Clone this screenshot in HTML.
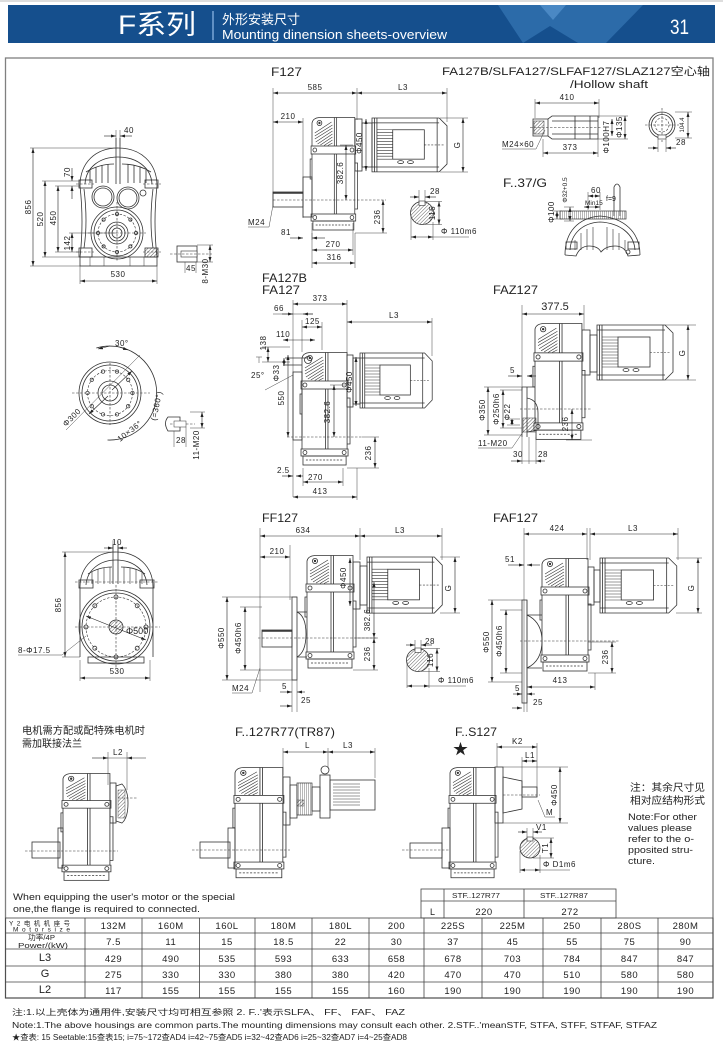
<!DOCTYPE html>
<html><head><meta charset="utf-8">
<style>
html,body{margin:0;padding:0;background:#fff}
body{width:723px;height:1042px;overflow:hidden}
svg{display:block}
text{font-family:"Liberation Sans","Noto Sans CJK SC",sans-serif;fill:#222;font-size:8px}
.l{fill:none;stroke:#333;stroke-width:.8}
.e{fill:none;stroke:#444;stroke-width:.5}
.dm{fill:none;stroke:#222;stroke-width:.6;marker-start:url(#a);marker-end:url(#a)}
.de{fill:none;stroke:#222;stroke-width:.6;marker-end:url(#a)}
.dsh{fill:none;stroke:#333;stroke-width:.6;stroke-dasharray:2.5 1.5}
.ttl{font-size:12px}
.n{font-size:8px;letter-spacing:.5px}
.tb{font-size:9.5px;letter-spacing:.5px}
</style></head><body>
<svg width="723" height="1042" viewBox="0 0 723 1042" xmlns="http://www.w3.org/2000/svg">
<defs>
<marker id="a" viewBox="0 0 10 6" refX="10" refY="3" markerWidth="5" markerHeight="3" orient="auto-start-reverse" markerUnits="userSpaceOnUse"><path d="M0,0L10,3L0,6z" fill="#222"/></marker>
<pattern id="h" width="2.5" height="2.5" patternUnits="userSpaceOnUse" patternTransform="rotate(45)"><line x1="0" y1="0" x2="0" y2="2.5" stroke="#333" stroke-width=".8"/></pattern>
<pattern id="v" width="2" height="4" patternUnits="userSpaceOnUse"><line x1="0" y1="0" x2="0" y2="4" stroke="#333" stroke-width=".7"/></pattern>
<g id="gb" fill="none" stroke="#333" stroke-width=".8">
 <path d="M0,29 L0,6 Q1,1 8,.5 L46,.5 L46,29"/>
 <path d="M3,16 L21,5 M3,19 L22,8 M3,22 L22,11 M4,25 L22,14 M6,27 L22,17 M9,28 L22,20 M13,28.5 L22,23 M17,28.5 L22,26" stroke-width=".6"/>
 <circle cx="8" cy="6" r="2.6"/><circle cx="8" cy="6" r=".8" fill="#333"/>
 <rect x="-1" y="29" width="48" height="8"/>
 <circle cx="3" cy="33" r="2"/><circle cx="43" cy="33" r="2"/>
 <path d="M24,.5 V29 M26.5,.5 V29 M24,37 V97 M26.5,37 V97"/>
 <path d="M0,37 V97 M46,37 V97"/>
 <path d="M0,42 H-2 V62 H0 M46,46 H49 V92 H46"/>
 <rect x="-1" y="97" width="48" height="7"/>
 <circle cx="3" cy="100.5" r="2"/><circle cx="43" cy="100.5" r="2"/>
 <rect x="1" y="104" width="44" height="9"/>
 <path d="M4,108 H42" stroke-dasharray="2 1.5"/>
</g>
<g id="mt" fill="none" stroke="#333" stroke-width=".8">
 <path d="M0,0 L68,0 L76,8 L76,47 L68,55 L0,55 Z"/>
 <path d="M0,5 H68 M0,50 H68 M66,0 V55 M2.5,0 V55 M5,0 V55"/>
 <rect x="21" y="12" width="32" height="30"/>
 <path d="M5,12 H21 M5,15 H21 M5,18 H21 M5,21 H21 M5,24 H21 M5,27 H21 M5,30 H21 M5,33 H21 M5,36 H21 M5,39 H21 M5,42 H21" stroke-width=".6"/>
 <path d="M53,27.5 H74" stroke-dasharray="2 1.5" stroke-width=".6"/>
 <ellipse cx="29" cy="45" rx="3" ry="1.5"/><ellipse cx="39" cy="45" rx="3" ry="1.5"/>
</g>
</defs>

<!-- HEADER -->
<line x1="0" y1="1" x2="723" y2="1" stroke="#bbb" stroke-width="1"/>
<rect x="8" y="5" width="707" height="38" fill="#154f8d"/>
<polygon points="498,5 643,5 606,43 578,43 550,26 523,43" fill="#2c6ba9"/>
<polygon points="540,5 566,5 553,20" fill="#4a88c4"/>
<text x="118" y="34" fill="#fff" style="fill:#fff;font-size:27px" textLength="78" lengthAdjust="spacingAndGlyphs">F系列</text>
<line x1="213" y1="11" x2="213" y2="40" stroke="#7aa6d6" stroke-width="1.5"/>
<text x="222" y="24" style="fill:#fff;font-size:13px" textLength="78" lengthAdjust="spacingAndGlyphs">外形安装尺寸</text>
<text x="222" y="39" style="fill:#fff;font-size:13px" textLength="225" lengthAdjust="spacingAndGlyphs">Mounting dinension sheets-overview</text>
<text x="670" y="34" style="fill:#fff;font-size:21px" textLength="19" lengthAdjust="spacingAndGlyphs">31</text>

<!-- FRAME -->
<rect x="5.5" y="58" width="707.5" height="940" fill="none" stroke="#808080" stroke-width="1.3"/>

<!-- A: F127 front view -->
<g class="l">
<path d="M80,186 C80,162 96,148 118,148 C140,148 157,162 157,186"/>
<path d="M85,184 C86,167 100,157 118,157 C136,157 151,167 152,184"/>
<path d="M86,172 C96,166 106,164 114,164 M122,164 C130,164 141,166 151,172"/>
<path d="M90,170 V183 M96,167 V183 M102,165 V183 M108,164 V183 M128,164 V183 M134,165 V183 M140,167 V183 M146,170 V183"/>
<path d="M116,138 V184 M120,138 V184"/>
<path d="M80,186 Q84,222 80,257 M157,186 Q153,222 157,257"/>
<path d="M84,189 Q88,222 84,248 M153,189 Q149,222 153,248"/>
<rect x="79" y="180" width="13" height="8"/><rect x="145" y="180" width="13" height="8"/>
<rect x="79" y="248" width="13" height="9"/><rect x="145" y="248" width="13" height="9" fill="url(#h)"/>
<circle cx="103" cy="197" r="11"/><circle cx="103" cy="197" r="9"/>
<circle cx="128" cy="198" r="11"/><circle cx="128" cy="198" r="9"/>
<circle cx="143" cy="193" r="3"/>
<circle cx="117" cy="233" r="26"/><circle cx="117" cy="233" r="23"/>
<circle cx="117" cy="233" r="11"/><circle cx="117" cy="233" r="8"/><circle cx="117" cy="233" r="5"/>
<circle cx="136" cy="233" r="1.6"/><circle cx="130.4" cy="246.4" r="1.6"/><circle cx="117" cy="252" r="1.6"/><circle cx="103.6" cy="246.4" r="1.6"/><circle cx="98" cy="233" r="1.6"/><circle cx="103.6" cy="219.6" r="1.6"/><circle cx="117" cy="214" r="1.6"/><circle cx="130.4" cy="219.6" r="1.6"/>
<rect x="80" y="257" width="77" height="9"/>
<path d="M90,257 V266 M104,257 V266 M130,257 V266 M144,257 V266" stroke-width=".5"/>
</g>
<circle cx="117" cy="233" r="19" class="dsh"/>
<path class="dsh" d="M88,233 H146 M117,202 V262 M76,184 H94 M143,184 H161 M76,252 H94 M143,252 H161"/>
<!-- A dims -->
<path class="e" d="M116,130 V146 M120,130 V146 M30,148 H118 M30,266 H80 M42,181 H80 M42,257 H80 M55,186 H80 M55,252 H80 M69,233 H117 M80,266 V284 M157,266 V284"/>
<line class="de" x1="104" y1="136" x2="116" y2="136"/><line class="de" x1="132" y1="136" x2="120" y2="136"/>
<text class="n" x="124" y="133">40</text>
<line class="dm" x1="33" y1="148" x2="33" y2="266"/>
<text class="n" transform="translate(31,207) rotate(-90)" text-anchor="middle">856</text>
<line class="dm" x1="45" y1="181" x2="45" y2="257"/>
<text class="n" transform="translate(43,219) rotate(-90)" text-anchor="middle">520</text>
<line class="dm" x1="58" y1="186" x2="58" y2="252"/>
<text class="n" transform="translate(56,218) rotate(-90)" text-anchor="middle">450</text>
<line class="de" x1="72" y1="168" x2="72" y2="181"/><line class="de" x1="72" y1="199" x2="72" y2="186"/>
<text class="n" transform="translate(70,172) rotate(-90)" text-anchor="middle">70</text>
<line class="dm" x1="72" y1="233" x2="72" y2="252"/>
<text class="n" transform="translate(70,243) rotate(-90)" text-anchor="middle">142</text>
<line class="dm" x1="80" y1="281" x2="157" y2="281"/>
<text class="n" x="118" y="277" text-anchor="middle">530</text>
<rect class="l" x="177" y="246" width="20" height="16" fill="url(#h)"/>
<rect x="181" y="251" width="16" height="6" fill="#fff" stroke="#333" stroke-width=".6"/>
<path class="dsh" d="M170,254 H212"/>
<path class="e" d="M185,262 V273 M196,262 V273 M197,245 H213 M197,262 H213"/>
<line class="dm" x1="210" y1="245" x2="210" y2="262"/>
<text class="n" x="186" y="271">45</text>
<text class="n" transform="translate(208,271) rotate(-90)" text-anchor="middle">8-M30</text>

<!-- B: F127 side -->
<text class="ttl" x="271" y="76" textLength="31" lengthAdjust="spacingAndGlyphs">F127</text>
<path class="e" d="M273,88 V207 M357,88 V120 M447,88 V122 M303,118 V218"/>
<line class="dm" x1="273" y1="93" x2="357" y2="93"/>
<line class="dm" x1="357" y1="93" x2="447" y2="93"/>
<text class="n" x="315" y="90" text-anchor="middle">585</text>
<text class="n" x="403" y="90" text-anchor="middle">L3</text>
<line class="dm" x1="273" y1="122" x2="303" y2="122"/>
<text class="n" x="288" y="119" text-anchor="middle">210</text>
<rect class="l" x="273" y="192" width="30" height="15"/>
<line x1="273" y1="193" x2="303" y2="193" stroke="#333" stroke-width="1.5"/>
<rect class="l" x="303" y="177" width="9" height="40"/>
<use href="#gb" transform="translate(312,117) scale(.93,1)"/>
<rect class="l" x="355" y="119" width="7" height="52"/><rect class="l" x="362" y="123" width="10" height="44"/>
<use href="#mt" transform="translate(372,118) scale(.987,.98)"/>
<line class="dsh" x1="273" y1="200" x2="386" y2="200"/>
<path class="e" d="M440,118 H468 M440,172 H468 M340,145 H353 M355,233 H387"/>
<line class="dm" x1="463" y1="118" x2="463" y2="172"/>
<text class="n" transform="translate(460,145) rotate(-90)" text-anchor="middle">G</text>
<line class="dm" x1="366" y1="119" x2="366" y2="171"/>
<text class="n" transform="translate(362,143) rotate(-90)" text-anchor="middle">Φ450</text>
<line class="dm" x1="346" y1="145" x2="346" y2="200"/>
<text class="n" transform="translate(343,173) rotate(-90)" text-anchor="middle">382.6</text>
<line class="dm" x1="383" y1="200" x2="383" y2="233"/>
<text class="n" transform="translate(380,217) rotate(-90)" text-anchor="middle">236</text>
<text class="n" x="248" y="225">M24</text>
<path class="e" d="M248,227 H269 L273,205"/>
<line class="de" x1="290" y1="238" x2="303" y2="238"/><line class="de" x1="325" y1="238" x2="312" y2="238"/>
<text class="n" x="281" y="235">81</text>
<path class="e" d="M312,223 V268 M353,223 V255 M355,233 V268"/>
<line class="dm" x1="312" y1="250" x2="353" y2="250"/>
<text class="n" x="333" y="247" text-anchor="middle">270</text>
<line class="dm" x1="312" y1="263" x2="355" y2="263"/>
<text class="n" x="334" y="260" text-anchor="middle">316</text>
<path class="e" d="M312,233 V240"/>
<circle cx="422" cy="213" r="11.5" fill="url(#h)" stroke="#333" stroke-width=".8"/>
<rect x="419" y="201" width="6" height="4.5" fill="#fff" stroke="#333" stroke-width=".6"/>
<path class="e" d="M419,190 V203 M425,190 V203 M425,201.5 H442 M425,224.5 H442 M411,215 V240 M433,222 V240"/>
<line class="de" x1="410" y1="197" x2="419" y2="197"/><line class="de" x1="436" y1="197" x2="425" y2="197"/>
<text class="n" x="430" y="194">28</text>
<line class="dm" x1="439" y1="201.5" x2="439" y2="224.5"/>
<text class="n" transform="translate(435,213) rotate(-90)" text-anchor="middle">116</text>
<line class="dm" x1="411" y1="237" x2="433" y2="237"/>
<line class="e" x1="433" y1="237" x2="469" y2="237"/>
<text class="n" x="441" y="234">Φ 110m6</text>

<!-- C: hollow shaft -->
<text x="442" y="75" style="font-size:11px" textLength="268" lengthAdjust="spacingAndGlyphs">FA127B/SLFA127/SLFAF127/SLAZ127空心轴</text>
<text x="570" y="88" style="font-size:11px" textLength="78" lengthAdjust="spacingAndGlyphs">/Hollow shaft</text>
<path class="l" d="M533,119 L548,119 L552,116 L598,116 L598,139 L552,139 L548,136 L533,136 Z"/>
<path class="l" d="M552,121 H598 M552,134 H598 M575,116 V139 M590,116 V139 M548,119 V136" stroke-width=".6"/>
<rect x="534" y="121" width="10" height="13" fill="url(#h)" stroke="#333" stroke-width=".5"/>
<path class="dsh" d="M530,127.5 H602"/>
<path class="e" d="M535,99 V118 M599,99 V118 M543,139 V157 M598,139 V157 M598,116 H628 M598,139 H628"/>
<line class="dm" x1="535" y1="103" x2="599" y2="103"/>
<text class="n" x="567" y="100" text-anchor="middle">410</text>
<line class="dm" x1="543" y1="153" x2="598" y2="153"/>
<text class="n" x="570" y="150" text-anchor="middle">373</text>
<text class="n" x="502" y="147">M24×60</text>
<path class="e" d="M502,149 H536 L545,130"/>
<line class="dm" x1="612" y1="119" x2="612" y2="136"/>
<text class="n" transform="translate(609,137) rotate(-90)" text-anchor="middle">Φ100H7</text>
<line class="dm" x1="625" y1="116" x2="625" y2="139"/>
<text class="n" transform="translate(622,127) rotate(-90)" text-anchor="middle">Φ135</text>
<circle class="l" cx="662" cy="125" r="13"/><circle class="l" cx="662" cy="125" r="10.5"/>
<circle class="dsh" cx="662" cy="125" r="7"/>
<path class="dsh" d="M645,125 H679 M662,108 V142"/>
<rect x="658" y="135" width="8" height="4" fill="#fff" stroke="#333" stroke-width=".6"/>
<path class="e" d="M658,139 V152 M666,139 V152 M675,112 H692 M675,138 H692"/>
<line class="dm" x1="688" y1="112" x2="688" y2="138"/>
<text transform="translate(684,125) rotate(-90)" text-anchor="middle" style="font-size:6px">104.4</text>
<line class="de" x1="648" y1="148" x2="658" y2="148"/><line class="de" x1="676" y1="148" x2="666" y2="148"/>
<text class="n" x="676" y="145">28</text>

<!-- F..37/G -->
<text class="ttl" x="503" y="187" textLength="44" lengthAdjust="spacingAndGlyphs">F..37/G</text>
<g class="l">
<path d="M565,255 C565,232 578,218 600,216 C624,218 640,232 640,255"/>
<path d="M570,250 C571,234 582,223 600,222 C620,223 634,234 635,250"/>
<path d="M575,240 V250 M581,233 V250 M587,229 V250 M593,227 V250 M607,227 V250 M613,229 V250 M619,233 V250 M625,240 V250" stroke-width=".6"/>
<rect x="566" y="242" width="11" height="7"/><rect x="628" y="242" width="11" height="7"/>
<path d="M565,255 L576,256 Q580,246 589,246 Q598,246 601,252 Q606,246 615,246 Q625,246 628,256 L640,255"/>
<circle cx="628" cy="252" r="2"/>
<path d="M614,216 L614,187 Q617,181 620,187 L620,216"/>
</g>
<rect x="560" y="211" width="66" height="8" fill="url(#v)" stroke="#333" stroke-width=".7"/>
<path class="e" d="M552,211 H562 M552,219 H562 M564,207 H574 M564,221 H574 M588,192 V210 M600,192 V210"/>
<line class="dm" x1="557" y1="211" x2="557" y2="219"/>
<text class="n" transform="translate(554,212) rotate(-90)" text-anchor="middle">Φ100</text>
<line class="dm" x1="570" y1="207" x2="570" y2="221"/>
<text transform="translate(567,190) rotate(-90)" text-anchor="middle" style="font-size:6.5px">Φ32+0.5</text>
<line class="dm" x1="588" y1="196" x2="600" y2="196"/>
<text class="n" x="591" y="193">60</text>
<line class="dm" x1="584" y1="207" x2="600" y2="207"/>
<text x="585" y="205" style="font-size:6.5px">Min15</text>
<text x="606" y="201" style="font-size:7px">f=9</text>

<!-- D: flange view -->
<g class="l">
<circle cx="110" cy="393" r="31"/><circle cx="110" cy="393" r="28"/>
<circle cx="110" cy="393" r="12"/><circle cx="110" cy="393" r="8"/>
<path d="M96.3,348 A47,47 0 1 1 107.5,440"/>
</g>
<circle class="dsh" cx="110" cy="393" r="22.5"/>
<g fill="none" stroke="#333" stroke-width=".7">
<circle cx="132.5" cy="393" r="1.7"/><circle cx="128.2" cy="406.2" r="1.7"/><circle cx="117" cy="414.4" r="1.7"/><circle cx="103" cy="414.4" r="1.7"/><circle cx="91.8" cy="406.2" r="1.7"/><circle cx="87.5" cy="393" r="1.7"/><circle cx="91.8" cy="379.8" r="1.7"/><circle cx="103" cy="371.6" r="1.7"/><circle cx="117" cy="371.6" r="1.7"/><circle cx="128.2" cy="379.8" r="1.7"/>
</g>
<path class="dsh" d="M72,393 H150 M110,363 V425"/>
<path class="e" d="M66,430 L140,355"/>
<line class="de" x1="112" y1="390" x2="132" y2="371"/>
<line class="de" x1="108" y1="396" x2="89" y2="414"/>
<line class="de" x1="110" y1="346" x2="98" y2="349"/>
<line class="de" x1="116" y1="346" x2="128" y2="350"/>
<text class="n" x="115" y="346">30°</text>
<text class="n" transform="translate(66,427) rotate(-45)">Φ300</text>
<text class="n" transform="translate(120,442) rotate(-38)">10×36°</text>
<text class="n" transform="translate(156,421) rotate(-78)">(=360°)</text>
<path class="l" d="M168,417 Q163,423 168,431 L180,431 L180,417 Z" fill="url(#h)"/>
<path class="dsh" d="M170,424 H195"/>
<rect x="174" y="421" width="12" height="6" fill="#fff" stroke="#333" stroke-width=".5"/>
<path class="e" d="M174,431 V447 M186,427 V447 M190,412 H205 M190,428 H205"/>
<line class="dm" x1="202" y1="412" x2="202" y2="428"/>
<text class="n" x="176" y="443">28</text>
<text class="n" transform="translate(199,445) rotate(-90)" text-anchor="middle">11-M20</text>

<!-- E: FA127 side -->
<text class="ttl" x="262" y="282" textLength="45" lengthAdjust="spacingAndGlyphs">FA127B</text>
<text class="ttl" x="262" y="294" textLength="38" lengthAdjust="spacingAndGlyphs">FA127</text>
<path class="e" d="M293,300 V497 M347,300 V357 M432,318 V356 M302,320 V352 M322,322 V350"/>
<line class="dm" x1="293" y1="304" x2="347" y2="304"/>
<text class="n" x="320" y="301" text-anchor="middle">373</text>
<line class="dm" x1="347" y1="322" x2="432" y2="322"/>
<text class="n" x="394" y="318" text-anchor="middle">L3</text>
<line class="e" x1="273" y1="314" x2="313" y2="314"/>
<line class="de" x1="282" y1="314" x2="293" y2="314"/><line class="de" x1="313" y1="314" x2="303" y2="314"/>
<text class="n" x="274" y="311">66</text>
<line class="dm" x1="302" y1="327" x2="322" y2="327"/>
<text class="n" x="305" y="324">125</text>
<line class="dm" x1="283" y1="340" x2="315" y2="340"/>
<text class="n" x="276" y="337">110</text>
<path class="e" d="M262,347 H290 M262,362 H290"/>
<line class="dm" x1="268" y1="347" x2="268" y2="362"/>
<text class="n" transform="translate(266,343) rotate(-90)" text-anchor="middle">138</text>
<line class="dm" x1="284" y1="358" x2="284" y2="366"/>
<text class="n" transform="translate(279,373) rotate(-90)" text-anchor="middle">Φ33</text>
<path class="e" d="M256,357 H262 M259,357 V363 M265,390 L293,375"/>
<text class="n" x="251" y="378">25°</text>
<path class="l" d="M285,358 H307 M283,365 H302"/>
<circle class="l" cx="308" cy="360" r="3.5"/>
<use href="#gb" transform="translate(302,352) scale(.98,1)"/>
<rect class="l" x="293" y="372" width="9" height="68"/>
<rect class="l" x="347" y="355" width="6" height="52"/><rect class="l" x="353" y="358" width="7" height="46"/>
<use href="#mt" transform="translate(360,353) scale(.95,1)"/>
<line class="dsh" x1="287" y1="437" x2="362" y2="437"/>
<line class="dm" x1="288" y1="355" x2="288" y2="437"/>
<text class="n" transform="translate(284,398) rotate(-90)" text-anchor="middle">550</text>
<line class="e" x1="330" y1="385" x2="345" y2="385"/>
<line class="dm" x1="334" y1="385" x2="334" y2="437"/>
<text class="n" transform="translate(330,412) rotate(-90)" text-anchor="middle">382.6</text>
<line class="dm" x1="356" y1="357" x2="356" y2="406"/>
<text class="n" transform="translate(352,382) rotate(-90)" text-anchor="middle">Φ450</text>
<path class="e" d="M347,468 H379 M362,437 H379 M343,468 V486 M303,468 V486 M357,468 V500"/>
<line class="dm" x1="375" y1="437" x2="375" y2="468"/>
<text class="n" transform="translate(371,453) rotate(-90)" text-anchor="middle">236</text>
<line class="de" x1="282" y1="476" x2="293" y2="476"/><line class="de" x1="303" y1="476" x2="296" y2="476"/>
<text class="n" x="277" y="473">2.5</text>
<line class="dm" x1="303" y1="482" x2="343" y2="482"/>
<text class="n" x="308" y="480">270</text>
<line class="dm" x1="293" y1="497" x2="357" y2="497"/>
<text class="n" x="320" y="494" text-anchor="middle">413</text>

<!-- F: FAZ127 -->
<text class="ttl" x="493" y="294" textLength="45" lengthAdjust="spacingAndGlyphs">FAZ127</text>
<path class="e" d="M522,305 V390 M584,305 V330"/>
<line class="dm" x1="522" y1="314" x2="584" y2="314"/>
<text x="555" y="310" text-anchor="middle" style="font-size:11px">377.5</text>
<use href="#gb" transform="translate(535,323) scale(1.02,1.03)"/>
<rect class="l" x="582" y="330" width="8" height="45"/><rect class="l" x="590" y="335" width="7" height="37"/>
<use href="#mt" transform="translate(597,325)"/>
<path class="e" d="M665,325 H696 M665,380 H696"/>
<line class="dm" x1="688" y1="325" x2="688" y2="380"/>
<text class="n" transform="translate(685,353) rotate(-90)" text-anchor="middle">G</text>
<path class="l" d="M522,387 H535 M527,387 V437 M522,387 V437 M527,398 Q538,400 538,413 L538,430 L527,432"/>
<rect x="523" y="418" width="13" height="14" fill="url(#h)" stroke="#333" stroke-width=".5"/>
<line class="dsh" x1="520" y1="409" x2="592" y2="409"/>
<path class="e" d="M484,387 H522 M484,435 H522 M500,390 H522 M500,428 H522 M507,419 H520 M507,425 H520 M566,440 H592"/>
<line class="de" x1="508" y1="376" x2="522" y2="376"/><line class="de" x1="536" y1="376" x2="527" y2="376"/>
<text class="n" x="510" y="373">5</text>
<line class="dm" x1="488" y1="387" x2="488" y2="435"/>
<text class="n" transform="translate(485,410) rotate(-90)" text-anchor="middle">Φ350</text>
<line class="dm" x1="503" y1="390" x2="503" y2="428"/>
<text class="n" transform="translate(499,409) rotate(-90)" text-anchor="middle">Φ250h6</text>
<line class="dm" x1="512" y1="419" x2="512" y2="425"/>
<text class="n" transform="translate(510,412) rotate(-90)" text-anchor="middle">Φ22</text>
<text class="n" x="478" y="446">11-M20</text>
<path class="e" d="M478,448 H512 L523,432 M522,437 V464 M529,437 V464 M536,437 V464"/>
<line class="dm" x1="572" y1="409" x2="572" y2="440"/>
<text class="n" transform="translate(568,424) rotate(-90)" text-anchor="middle">236</text>
<line class="de" x1="511" y1="461" x2="522" y2="461"/><line class="de" x1="545" y1="461" x2="536" y2="461"/>
<line class="e" x1="522" y1="461" x2="536" y2="461"/>
<text class="n" x="513" y="457">30</text>
<text class="n" x="538" y="457">28</text>

<!-- G: FF127 front -->
<g class="l">
<path d="M80,587 C80,566 96,552 116,552 C137,552 153,566 153,587"/>
<path d="M86,585 C87,570 100,560 116,560 C133,560 146,570 147,585"/>
<path d="M88,574 C97,568 105,567 112,567 M121,567 C128,567 137,568 145,574"/>
<path d="M92,572 V584 M98,569 V584 M104,568 V584 M110,567 V584 M124,567 V584 M130,568 V584 M136,569 V584 M142,572 V584" stroke-width=".6"/>
<path d="M113,545 V584 M118,545 V584"/>
<rect x="79" y="580" width="14" height="8"/><rect x="140" y="580" width="14" height="8"/>
<path d="M80,587 V657 M153,587 V657"/>
<circle cx="116" cy="627" r="37"/><circle cx="116" cy="627" r="34"/>
<circle cx="116" cy="627" r="7" fill="url(#h)"/>
<rect x="88" y="657" width="56" height="6"/>
<circle cx="146" cy="627" r="2"/><circle cx="137.2" cy="648.2" r="2"/><circle cx="116" cy="657" r="2"/><circle cx="94.8" cy="648.2" r="2"/><circle cx="86" cy="627" r="2"/><circle cx="94.8" cy="605.8" r="2"/><circle cx="116" cy="597" r="2"/><circle cx="137.2" cy="605.8" r="2"/>
</g>
<circle class="dsh" cx="116" cy="627" r="30"/>
<path class="dsh" d="M75,627 H160 M116,585 V668 M75,582 H158"/>
<path class="e" d="M113,541 V552 M118,541 V552 M62,552 H116 M62,657 H80 M80,660 V681 M150,660 V681"/>
<line class="de" x1="104" y1="548" x2="113" y2="548"/><line class="de" x1="127" y1="548" x2="118" y2="548"/>
<text class="n" x="112" y="545">10</text>
<line class="dm" x1="65" y1="552" x2="65" y2="657"/>
<text class="n" transform="translate(61,605) rotate(-90)" text-anchor="middle">856</text>
<line class="dm" x1="86" y1="616" x2="146" y2="640"/>
<text x="126" y="634" style="font-size:9px">Φ500</text>
<text class="n" x="18" y="653">8-Φ17.5</text>
<path class="e" d="M18,655 H62 L86,636"/>
<line class="dm" x1="80" y1="678" x2="150" y2="678"/>
<text class="n" x="117" y="674" text-anchor="middle">530</text>

<!-- H: FF127 side -->
<text class="ttl" x="262" y="522" textLength="36" lengthAdjust="spacingAndGlyphs">FF127</text>
<path class="e" d="M260,528 V692 M360,528 V560 M442,528 V560 M290,545 V600"/>
<line class="dm" x1="260" y1="536" x2="360" y2="536"/>
<text class="n" x="303" y="533" text-anchor="middle">634</text>
<line class="dm" x1="360" y1="536" x2="442" y2="536"/>
<text class="n" x="400" y="533" text-anchor="middle">L3</text>
<line class="dm" x1="260" y1="557" x2="290" y2="557"/>
<text class="n" x="277" y="554" text-anchor="middle">210</text>
<rect class="l" x="292" y="597" width="5" height="83"/>
<path class="l" d="M297,612 Q306,616 306,634 Q306,652 297,657"/>
<rect class="l" x="262" y="630" width="30" height="17"/>
<line x1="262" y1="631" x2="292" y2="631" stroke="#333" stroke-width="1.5"/>
<path class="l" d="M297,612 H307 M297,657 H307"/>
<use href="#gb" transform="translate(307,555)"/>
<rect class="l" x="353" y="562" width="7" height="47"/><rect class="l" x="360" y="566" width="7" height="39"/>
<use href="#mt" transform="translate(367,557) scale(.99,1.02)"/>
<line class="dsh" x1="258" y1="638" x2="378" y2="638"/>
<path class="e" d="M222,597 H297 M222,680 H297 M240,607 H262 M240,670 H292"/>
<line class="dm" x1="227" y1="597" x2="227" y2="680"/>
<text class="n" transform="translate(224,638) rotate(-90)" text-anchor="middle">Φ550</text>
<line class="dm" x1="245" y1="607" x2="245" y2="670"/>
<text class="n" transform="translate(241,638) rotate(-90)" text-anchor="middle">Φ450h6</text>
<text class="n" x="232" y="691">M24</text>
<path class="e" d="M232,693 H252 L260,668"/>
<path class="e" d="M292,680 V712 M297,680 V712"/>
<line class="de" x1="280" y1="692" x2="292" y2="692"/><line class="de" x1="305" y1="692" x2="297" y2="692"/>
<text class="n" x="282" y="689">5</text>
<line class="de" x1="280" y1="706" x2="292" y2="706"/>
<text class="n" x="301" y="703">25</text>
<line class="dm" x1="350" y1="558" x2="350" y2="606"/>
<text class="n" transform="translate(346,578) rotate(-90)" text-anchor="middle">Φ450</text>
<path class="e" d="M355,638 H378 M353,670 H378 M440,557 H460 M440,613 H460"/>
<line class="dm" x1="374" y1="582" x2="374" y2="638"/>
<text class="n" transform="translate(370,620) rotate(-90)" text-anchor="middle">382.6</text>
<line class="dm" x1="374" y1="638" x2="374" y2="670"/>
<text class="n" transform="translate(370,654) rotate(-90)" text-anchor="middle">236</text>
<line class="dm" x1="455" y1="557" x2="455" y2="613"/>
<text class="n" transform="translate(451,588) rotate(-90)" text-anchor="middle">G</text>
<circle cx="418" cy="660" r="11.5" fill="url(#h)" stroke="#333" stroke-width=".8"/>
<rect x="415" y="648" width="6" height="4.5" fill="#fff" stroke="#333" stroke-width=".6"/>
<path class="e" d="M415,640 V650 M421,640 V650 M421,648.5 H440 M421,671.5 H440 M407,662 V688 M429,668 V688"/>
<line class="de" x1="406" y1="645" x2="415" y2="645"/><line class="de" x1="432" y1="645" x2="421" y2="645"/>
<text class="n" x="425" y="644">28</text>
<line class="dm" x1="437" y1="648.5" x2="437" y2="671.5"/>
<text class="n" transform="translate(433,660) rotate(-90)" text-anchor="middle">116</text>
<line class="dm" x1="407" y1="686" x2="429" y2="686"/>
<line class="e" x1="429" y1="686" x2="466" y2="686"/>
<text class="n" x="438" y="683">Φ 110m6</text>

<!-- I: FAF127 -->
<text class="ttl" x="493" y="522" textLength="45" lengthAdjust="spacingAndGlyphs">FAF127</text>
<path class="e" d="M524,528 V712 M587,528 V560 M590,528 V560 M678,528 V560 M527,600 V712"/>
<line class="dm" x1="524" y1="534" x2="587" y2="534"/>
<text class="n" x="557" y="531" text-anchor="middle">424</text>
<line class="dm" x1="590" y1="534" x2="678" y2="534"/>
<text class="n" x="633" y="531" text-anchor="middle">L3</text>
<line class="de" x1="508" y1="565" x2="524" y2="565"/><line class="de" x1="540" y1="565" x2="527" y2="565"/>
<text class="n" x="505" y="562">51</text>
<use href="#gb" transform="translate(542,558)"/>
<rect class="l" x="588" y="567" width="6" height="38"/><rect class="l" x="594" y="570" width="6" height="32"/>
<use href="#mt" transform="translate(600,558) scale(1.01,1)"/>
<rect class="l" x="522" y="600" width="5" height="103"/>
<path class="l" d="M527,615 Q542,622 542,641 Q542,661 527,668 M527,615 H542 M527,668 H542"/>
<line class="dsh" x1="520" y1="641" x2="620" y2="641"/>
<path class="e" d="M488,600 H522 M488,682 H522 M500,610 H522 M500,673 H522 M588,642 H616 M588,673 H616 M676,558 H702 M676,613 H702"/>
<line class="dm" x1="492" y1="600" x2="492" y2="682"/>
<text class="n" transform="translate(489,642) rotate(-90)" text-anchor="middle">Φ550</text>
<line class="dm" x1="506" y1="610" x2="506" y2="673"/>
<text class="n" transform="translate(502,641) rotate(-90)" text-anchor="middle">Φ450h6</text>
<line class="dm" x1="612" y1="642" x2="612" y2="673"/>
<text class="n" transform="translate(608,657) rotate(-90)" text-anchor="middle">236</text>
<line class="dm" x1="698" y1="558" x2="698" y2="613"/>
<text class="n" transform="translate(694,588) rotate(-90)" text-anchor="middle">G</text>
<path class="e" d="M595,673 V690"/>
<line class="dm" x1="527" y1="687" x2="595" y2="687"/>
<text class="n" x="560" y="683" text-anchor="middle">413</text>
<line class="de" x1="513" y1="694" x2="522" y2="694"/><line class="de" x1="535" y1="694" x2="527" y2="694"/>
<text class="n" x="515" y="691">5</text>
<line class="de" x1="512" y1="708" x2="522" y2="708"/>
<text class="n" x="533" y="705">25</text>

<!-- J: flange equip -->
<text x="22" y="734" style="font-size:10px" textLength="123" lengthAdjust="spacingAndGlyphs">电机需方配或配特殊电机时</text>
<text x="22" y="747" style="font-size:10px" textLength="60" lengthAdjust="spacingAndGlyphs">需加联接法兰</text>
<path class="e" d="M108,752 V785 M127,752 V790"/>
<line class="e" x1="108" y1="758" x2="127" y2="758"/>
<line class="de" x1="92" y1="758" x2="108" y2="758"/><line class="de" x1="146" y1="758" x2="127" y2="758"/>
<text class="n" x="113" y="755">L2</text>
<use href="#gb" transform="translate(63,773) scale(1.02,.95)"/>
<rect class="l" x="110" y="783" width="6" height="40"/>
<path class="l" d="M116,786 L122,784 Q128,790 128,803 Q128,818 122,823 L116,821 Z"/>
<rect x="118" y="790" width="7" height="28" fill="url(#h)" stroke="#333" stroke-width=".4"/>
<rect class="l" x="32" y="842" width="28" height="16"/>
<rect class="l" x="58" y="828" width="5" height="40"/>
<path class="dsh" d="M25,851 H118 M118,798 H137"/>

<!-- K: F..127R77 -->
<text class="ttl" x="235" y="736" textLength="100" lengthAdjust="spacingAndGlyphs">F..127R77(TR87)</text>
<path class="e" d="M283,748 V775 M328,748 V768 M375,748 V778"/>
<line class="dm" x1="283" y1="752" x2="328" y2="752"/>
<line class="dm" x1="328" y1="752" x2="375" y2="752"/>
<text class="n" x="305" y="748">L</text>
<text class="n" x="343" y="748">L3</text>
<use href="#gb" transform="translate(235,767) scale(1.04,.98)"/>
<rect class="l" x="283" y="777" width="7" height="48"/><rect class="l" x="290" y="785" width="7" height="33"/>
<rect x="297" y="783" width="15" height="32" fill="url(#v)" stroke="#333" stroke-width=".7"/>
<rect class="l" x="312" y="787" width="8" height="24"/>
<rect class="l" x="320" y="775" width="10" height="43"/>
<circle class="l" cx="325" cy="770" r="4"/>
<rect x="297" y="800" width="7" height="6" fill="url(#h)" stroke="#333" stroke-width=".4"/>
<rect class="l" x="330" y="780" width="45" height="30"/>
<path d="M333,784 H360 M333,787 H360 M333,790 H360 M333,793 H360 M333,796 H360 M333,799 H360 M333,802 H360 M333,805 H360" stroke="#333" stroke-width=".5"/>
<rect class="l" x="200" y="842" width="30" height="16"/>
<rect class="l" x="228" y="828" width="7" height="40"/>
<path class="dsh" d="M192,850 H290"/>

<!-- L: F..S127 -->
<text class="ttl" x="455" y="736" textLength="42" lengthAdjust="spacingAndGlyphs">F..S127</text>
<text x="453" y="754" style="font-size:15px">★</text>
<path class="e" d="M497,743 V767 M537,743 V797 M522,757 V787"/>
<line class="dm" x1="497" y1="747" x2="537" y2="747"/>
<text class="n" x="512" y="744">K2</text>
<line class="dm" x1="522" y1="761" x2="537" y2="761"/>
<text class="n" x="525" y="758">L1</text>
<use href="#gb" transform="translate(450,767) scale(.98,.98)"/>
<rect class="l" x="495" y="767" width="8" height="56"/>
<path class="l" d="M503,777 L522,781 L522,809 L503,813 Z"/>
<rect class="l" x="522" y="787" width="15" height="10"/>
<path class="dsh" d="M503,795 H540 M402,850 H450"/>
<path class="e" d="M503,767 H568 M503,823 H568 M538,800 L545,817 H555"/>
<line class="dm" x1="560" y1="767" x2="560" y2="823"/>
<text class="n" transform="translate(557,795) rotate(-90)" text-anchor="middle">Φ450</text>
<text class="n" x="546" y="815">M</text>
<rect class="l" x="410" y="843" width="32" height="15"/>
<rect class="l" x="442" y="828" width="8" height="40"/>
<circle cx="530" cy="848" r="10" fill="url(#h)" stroke="#333" stroke-width=".8"/>
<rect x="527" y="837" width="6" height="4" fill="#fff" stroke="#333" stroke-width=".6"/>
<path class="e" d="M527,828 V840 M533,828 V840 M533,838 H554 M533,858 H554 M520,851 V873 M540,855 V873"/>
<line class="de" x1="518" y1="832" x2="527" y2="832"/><line class="de" x1="542" y1="832" x2="533" y2="832"/>
<text class="n" x="536" y="830">V1</text>
<line class="dm" x1="551" y1="838" x2="551" y2="858"/>
<text class="n" transform="translate(548,848) rotate(-90)" text-anchor="middle">T1</text>
<line class="dm" x1="520" y1="870" x2="540" y2="870"/>
<line class="e" x1="540" y1="870" x2="570" y2="870"/>
<text class="n" x="543" y="867">Φ D1m6</text>

<!-- right notes -->
<text x="630" y="791" style="font-size:10px" textLength="75" lengthAdjust="spacingAndGlyphs">注：其余尺寸见</text>
<text x="630" y="804" style="font-size:10px" textLength="75" lengthAdjust="spacingAndGlyphs">相对应结构形式</text>
<text x="628" y="820" style="font-size:9.5px" textLength="69" lengthAdjust="spacingAndGlyphs">Note:For other</text>
<text x="628" y="831" style="font-size:9.5px" textLength="64" lengthAdjust="spacingAndGlyphs">values please</text>
<text x="628" y="842" style="font-size:9.5px" textLength="66" lengthAdjust="spacingAndGlyphs">refer to the o-</text>
<text x="628" y="853" style="font-size:9.5px" textLength="65" lengthAdjust="spacingAndGlyphs">pposited stru-</text>
<text x="628" y="864" style="font-size:9.5px" textLength="27" lengthAdjust="spacingAndGlyphs">cture.</text>

<!-- TABLES -->
<text x="13" y="900" style="font-size:9px" textLength="222" lengthAdjust="spacingAndGlyphs">When equipping the user's motor or the special</text>
<text x="13" y="912" style="font-size:9px" textLength="187" lengthAdjust="spacingAndGlyphs">one,the flange is required to connected.</text>
<g fill="none" stroke="#444" stroke-width=".8">
<rect x="421" y="889" width="195" height="29"/>
<path d="M421,901 H616 M444,889 V918 M524,889 V918"/>
<rect x="5.5" y="918" width="707.5" height="80"/>
<path d="M5.5,933 H713 M5.5,949 H713 M5.5,966 H713 M5.5,982 H713"/>
<path d="M85,918 V998 M142,918 V998 M199.5,918 V998 M255,918 V998 M312,918 V998 M369,918 V998 M424,918 V998 M482,918 V998 M543,918 V998 M601,918 V998 M658,918 V998"/>
</g>
<text x="452" y="898" style="font-size:7.5px" textLength="48" lengthAdjust="spacingAndGlyphs">STF..127R77</text>
<text x="540" y="898" style="font-size:7.5px" textLength="48" lengthAdjust="spacingAndGlyphs">STF..127R87</text>
<text x="430" y="915" style="font-size:9px">L</text>
<text x="484" y="915" class="tb" text-anchor="middle">220</text>
<text x="570" y="915" class="tb" text-anchor="middle">272</text>

<text x="9" y="925.5" style="font-size:6.5px" textLength="61" lengthAdjust="spacing">Y2电机机座号</text>
<text x="13" y="931.5" style="font-size:6.5px" textLength="57" lengthAdjust="spacing">Motorsize</text>
<text x="28" y="940" style="font-size:7.5px" textLength="27" lengthAdjust="spacingAndGlyphs">功率/4P</text>
<text x="18" y="948" style="font-size:7.5px" textLength="50" lengthAdjust="spacingAndGlyphs">Power/(kW)</text>
<text x="45" y="961" text-anchor="middle" style="font-size:11px">L3</text>
<text x="45" y="977" text-anchor="middle" style="font-size:11px">G</text>
<text x="45" y="993" text-anchor="middle" style="font-size:11px">L2</text>

<g class="tb" text-anchor="middle">
<text x="113.5" y="929" class="tb">132M</text><text x="170.8" y="929" class="tb">160M</text><text x="227" y="929" class="tb">160L</text><text x="283.5" y="929" class="tb">180M</text><text x="340.5" y="929" class="tb">180L</text><text x="396.5" y="929" class="tb">200</text><text x="453" y="929" class="tb">225S</text><text x="512.5" y="929" class="tb">225M</text><text x="572" y="929" class="tb">250</text><text x="629.5" y="929" class="tb">280S</text><text x="685.5" y="929" class="tb">280M</text>
<text x="113.5" y="945" class="tb">7.5</text><text x="170.8" y="945" class="tb">11</text><text x="227" y="945" class="tb">15</text><text x="283.5" y="945" class="tb">18.5</text><text x="340.5" y="945" class="tb">22</text><text x="396.5" y="945" class="tb">30</text><text x="453" y="945" class="tb">37</text><text x="512.5" y="945" class="tb">45</text><text x="572" y="945" class="tb">55</text><text x="629.5" y="945" class="tb">75</text><text x="685.5" y="945" class="tb">90</text>
<text x="113.5" y="962" class="tb">429</text><text x="170.8" y="962" class="tb">490</text><text x="227" y="962" class="tb">535</text><text x="283.5" y="962" class="tb">593</text><text x="340.5" y="962" class="tb">633</text><text x="396.5" y="962" class="tb">658</text><text x="453" y="962" class="tb">678</text><text x="512.5" y="962" class="tb">703</text><text x="572" y="962" class="tb">784</text><text x="629.5" y="962" class="tb">847</text><text x="685.5" y="962" class="tb">847</text>
<text x="113.5" y="978" class="tb">275</text><text x="170.8" y="978" class="tb">330</text><text x="227" y="978" class="tb">330</text><text x="283.5" y="978" class="tb">380</text><text x="340.5" y="978" class="tb">380</text><text x="396.5" y="978" class="tb">420</text><text x="453" y="978" class="tb">470</text><text x="512.5" y="978" class="tb">470</text><text x="572" y="978" class="tb">510</text><text x="629.5" y="978" class="tb">580</text><text x="685.5" y="978" class="tb">580</text>
<text x="113.5" y="994" class="tb">117</text><text x="170.8" y="994" class="tb">155</text><text x="227" y="994" class="tb">155</text><text x="283.5" y="994" class="tb">155</text><text x="340.5" y="994" class="tb">155</text><text x="396.5" y="994" class="tb">160</text><text x="453" y="994" class="tb">190</text><text x="512.5" y="994" class="tb">190</text><text x="572" y="994" class="tb">190</text><text x="629.5" y="994" class="tb">190</text><text x="685.5" y="994" class="tb">190</text>
</g>

<!-- NOTES -->
<text x="12" y="1015" style="font-size:8px" textLength="393" lengthAdjust="spacingAndGlyphs">注:1.以上壳体为通用件,安装尺寸均可相互参照   2.   F..'表示SLFA、  FF、  FAF、  FAZ</text>
<text x="12" y="1028" style="font-size:8px" textLength="645" lengthAdjust="spacingAndGlyphs">Note:1.The above housings are common parts.The mounting dimensions may consult each other.   2.STF..'meanSTF, STFA, STFF, STFAF, STFAZ</text>
<text x="12" y="1040" style="font-size:8px" textLength="395" lengthAdjust="spacingAndGlyphs">★查表: 15  Seetable:15查表15;  i=75~172查AD4  i=42~75查AD5  i=32~42查AD6  i=25~32查AD7  i=4~25查AD8</text>
</svg>
</body></html>
